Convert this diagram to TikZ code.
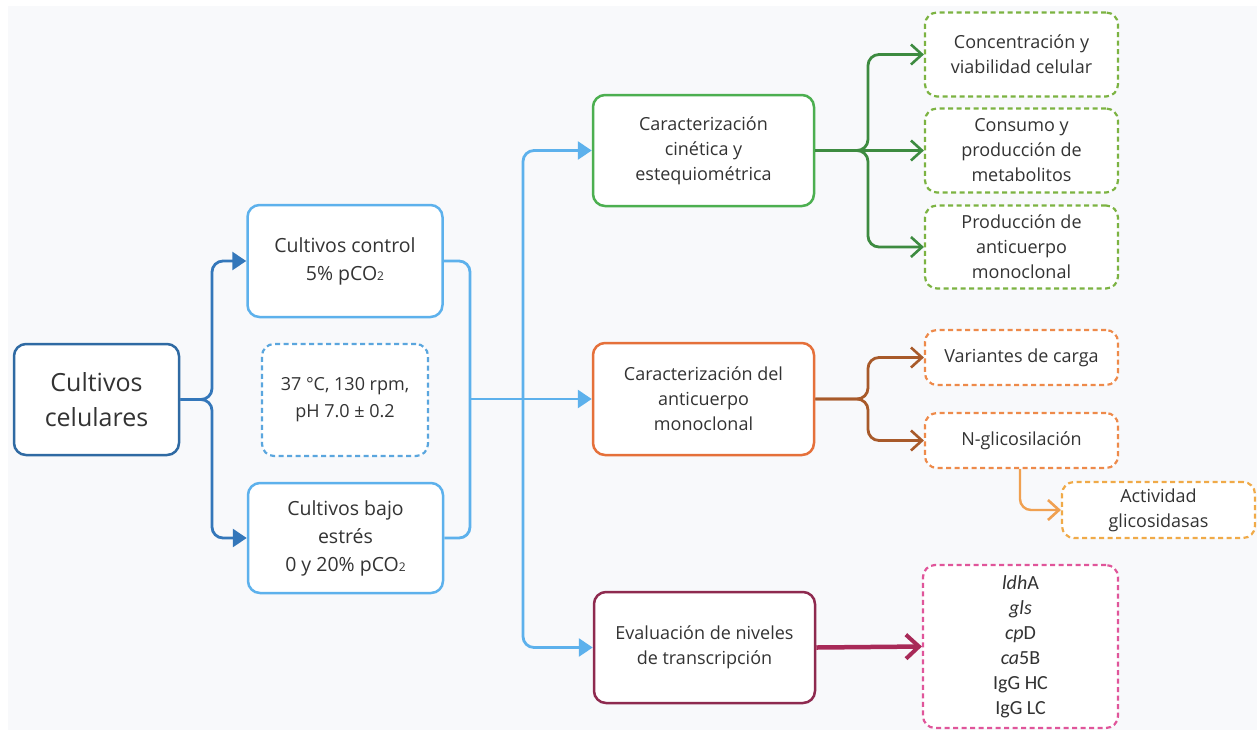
\documentclass[tikz,border=0pt]{standalone}
\usepackage{fontspec}
\setmainfont{Open Sans}
\newfontfamily\carl{Carlito}
\usetikzlibrary{arrows.meta}
\definecolor{bgc}{HTML}{F8F9FB}
\definecolor{txt}{HTML}{333333}
\definecolor{dblue}{HTML}{2F6AA3}
\definecolor{dbluea}{HTML}{3477BA}
\definecolor{lblue}{HTML}{5DB1EC}
\definecolor{condblue}{HTML}{5AA6DE}
\definecolor{gbox}{HTML}{4CAF50}
\definecolor{gline}{HTML}{3D8B40}
\definecolor{gdash}{HTML}{7CB342}
\definecolor{obox}{HTML}{E5703A}
\definecolor{bline}{HTML}{A85A2A}
\definecolor{odash}{HTML}{EE8A4A}
\definecolor{ydash}{HTML}{F0AA48}
\definecolor{yline}{HTML}{F0A050}
\definecolor{cbox}{HTML}{8E2A4F}
\definecolor{cline}{HTML}{A82A58}
\definecolor{pdash}{HTML}{E0559A}
\newcommand\subtwo{{\fontsize{12}{12}\selectfont 2}}
\tikzset{
  box/.style={draw, fill=white, rounded corners=12pt, line width=2.5pt, inner sep=0pt, align=center, text=txt},
  dbox/.style={box, line width=2.2pt, dash pattern=on 5pt off 3.5pt},
  fmid/.style={font=\fontsize{18}{25}\selectfont},
  fbig/.style={font=\fontsize{19.5}{28}\selectfont},
  conn/.style={line width=2.8pt, rounded corners=11pt},
  tri/.style={conn, -{Triangle[length=14pt,width=18pt]}},
  barb/.style={conn, -{Straight Barb[length=11pt,width=20pt,line width=2.6pt]}},
}
\begin{document}
\begin{tikzpicture}[x=1pt,y=-1pt]
\useasboundingbox (0,0) rectangle (1257,732);
\fill[white] (0,0) rectangle (1257,732);
\fill[bgc] (8,6) rectangle (1257,730);
% nodes
\node[box, draw=dblue, minimum width=165pt, minimum height=111pt, font=\fontsize{25}{35}\selectfont] (cel) at (96.5,399.5) {Cultivos\\celulares};
\node[box, draw=lblue, minimum width=195pt, minimum height=112pt, fbig] (ctrl) at (345,261) {Cultivos control\\5\% pCO\subtwo};
\node[dbox, draw=condblue, minimum width=166pt, minimum height=112pt, font=\fontsize{18}{27}\selectfont] (cond) at (345,400) {37 °C, 130 rpm,\\pH 7.0 ± 0.2};
\node[box, draw=lblue, minimum width=195pt, minimum height=110pt, fbig] (bajo) at (345.5,538) {Cultivos bajo\\estrés\\0 y 20\% pCO\subtwo};
\node[box, draw=gbox, minimum width=221pt, minimum height=111pt, fmid] (cin) at (703.5,150.5) {Caracterización\\cinética y\\estequiométrica};
\node[box, draw=obox, minimum width=221pt, minimum height=112pt, fmid] (del) at (703.5,399) {Caracterización del\\anticuerpo\\monoclonal};
\node[box, draw=cbox, minimum width=221pt, minimum height=111pt, fmid] (eva) at (704.5,647.5) {Evaluación de niveles\\de transcripción};
\node[dbox, draw=gdash, minimum width=193pt, minimum height=84pt, fmid] (conc) at (1021.5,54.5) {Concentración y\\viabilidad celular};
\node[dbox, draw=gdash, minimum width=193pt, minimum height=84pt, fmid] (cons) at (1021.5,150.5) {Consumo y\\producción de\\metabolitos};
\node[dbox, draw=gdash, minimum width=193pt, minimum height=83pt, fmid] (prod) at (1021.5,247) {Producción de\\anticuerpo\\monoclonal};
\node[dbox, draw=odash, minimum width=193pt, minimum height=55pt, fmid] (var) at (1021.5,357.5) {Variantes de carga};
\node[dbox, draw=odash, minimum width=193pt, minimum height=55pt, fmid] (ngl) at (1021.5,440.5) {N-glicosilación};
\node[dbox, draw=ydash, minimum width=193pt, minimum height=56pt, fmid] (act) at (1158.5,510) {Actividad\\glicosidasas};
\node[dbox, draw=pdash, minimum width=195pt, minimum height=163pt, font=\carl\fontsize{20}{25}\selectfont] (gene) at (1020.5,646.5) {\textit{ldh}A\\\textit{gls}\\\textit{cp}D\\\textit{ca}5B\\IgG HC\\IgG LC};
% blue connectors
\coordinate (f1) at (212,399.5);
\draw[tri, draw=dbluea] (cel.east) -- (f1) |- (ctrl.west);
\draw[tri, draw=dbluea] (cel.east) -- (f1) |- (bajo.west);
\draw[conn, draw=lblue] (ctrl.east) -- (470,261) -- (470,538) -- (bajo.east);
\coordinate (j1) at (470,399);
\coordinate (j2) at (523,399);
\draw[tri, draw=lblue] (j1) -- (del.west);
\draw[tri, draw=lblue] (j2) |- (cin.west);
\draw[tri, draw=lblue] (j2) |- (eva.west);
% green
\coordinate (f2) at (868,150.5);
\draw[barb, draw=gline] (cin.east) -- (f2) |- (conc.west);
\draw[barb, draw=gline] (cin.east) -- (cons.west);
\draw[barb, draw=gline] (cin.east) -- (f2) |- (prod.west);
% brown
\coordinate (f3) at (868,399);
\draw[barb, draw=bline] (del.east) -- (f3) |- (var.west);
\draw[barb, draw=bline] (del.east) -- (f3) |- (ngl.west);
% orange
\draw[barb, draw=yline, line width=2.4pt] (ngl.south -| 1020,0) |- (act.west);
% crimson
\draw[conn, draw=cline, line width=4.5pt, -{Straight Barb[length=13pt,width=24pt,line width=4pt]}] (eva.east) -- (gene.west);
\end{tikzpicture}
\end{document}
